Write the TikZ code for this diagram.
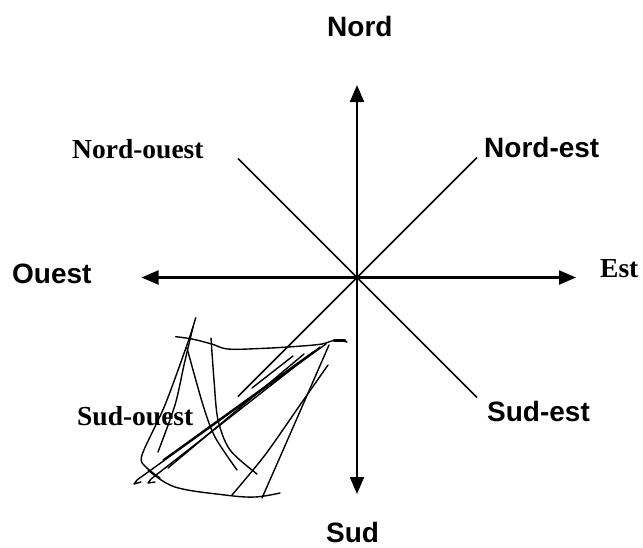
\documentclass[tikz,border=0pt]{standalone}
\usepackage{fontspec}
\setmainfont{Liberation Serif}
\newfontfamily\sansfnt{Liberation Sans}
\usetikzlibrary{arrows.meta}
\tikzset{
  axis/.style={line width=2.2pt, -{Triangle[length=17pt,width=14pt]}},
  diag/.style={line width=1.6pt},
  scrib/.style={line width=1.4pt, line cap=round, line join=round},
  sanslab/.style={anchor=base west, inner sep=0pt, font=\sansfnt\bfseries\fontsize{28}{30}\selectfont},
  seriflab/.style={anchor=base west, inner sep=0pt, font=\bfseries\fontsize{27.5}{29}\selectfont}
}
\begin{document}
\begin{tikzpicture}[x=1pt,y=-1pt]
\useasboundingbox (0,0) rectangle (643,547);
% centre and ends
\coordinate (C) at (357,277.5);
\coordinate (N) at (357,85);
\coordinate (S) at (357,494);
\coordinate (W) at (141.5,277.5);
\coordinate (E) at (576,277.5);
\coordinate (NE) at (477,157.5);
\coordinate (NW) at (238,158.5);
\coordinate (SE) at (477,397.5);
\coordinate (SW) at (238,396.5);
% axes
\draw[axis] (C) -- (N);
\draw[axis] (C) -- (S);
\draw[axis] (C) -- (W);
\draw[axis] (C) -- (E);
\draw[diag] (C) -- (NE);
\draw[diag] (C) -- (NW);
\draw[diag] (C) -- (SE);
\draw[diag] (C) -- (SW);
% labels
\node[sanslab] (lN) at (327,36) {Nord};
\node[seriflab] (lNW) at (72,158) {Nord-ouest};
\node[sanslab] (lNE) at (484,157) {Nord-est};
\node[sanslab] (lW) at (12,283) {Ouest};
\node[seriflab] (lE) at (600,277) {Est};
\node[seriflab] (lSW) at (77,425) {Sud-ouest};
\node[sanslab] (lSE) at (487,421) {Sud-est};
\node[sanslab] (lS) at (326,542) {Sud};
% scribble
\draw[scrib] plot[smooth, tension=0.6] coordinates {(175.7,336.7) (192,339) (211.7,344) (228,349) (260,348.5) (295,346.5) (322,344) (335,340) (347,342)};
\draw[line width=2.6pt, line cap=round] (334,340.5) -- (345,340.5);
\draw[scrib] plot[smooth, tension=0.5] coordinates {(195.7,317.7) (188,342) (165,405) (142,455) (146,467) (160,478)};
\draw[scrib] plot[smooth, tension=0.6] coordinates {(148,470) (175,487) (225,495) (255,497) (280,493)};
\draw[scrib] plot[smooth, tension=0.5] coordinates {(193,327) (184,365) (175,405) (158,452)};
\draw[scrib] plot[smooth, tension=0.5] coordinates {(187,348) (203,405) (215,437) (237,470)};
\draw[scrib] plot[smooth, tension=0.5] coordinates {(211,338) (214,380) (218,420) (230,450) (257,474)};
\draw[scrib] (326,344) -- (137,480) -- (134,484) -- (141,482);
\draw[scrib] (320,347) -- (151,479) -- (148,483) -- (155,482);
\draw[scrib] (313,352) -- (163,460);
\draw[scrib] (304,354) -- (168,468);
\draw[scrib] (293,356) -- (252,388);
\draw[scrib] plot[smooth, tension=0.5] coordinates {(329,345) (305,400) (284,448) (262,498)};
\draw[scrib] plot[smooth, tension=0.5] coordinates {(328,365) (300,405) (265,455) (232,495)};
\end{tikzpicture}
\end{document}
